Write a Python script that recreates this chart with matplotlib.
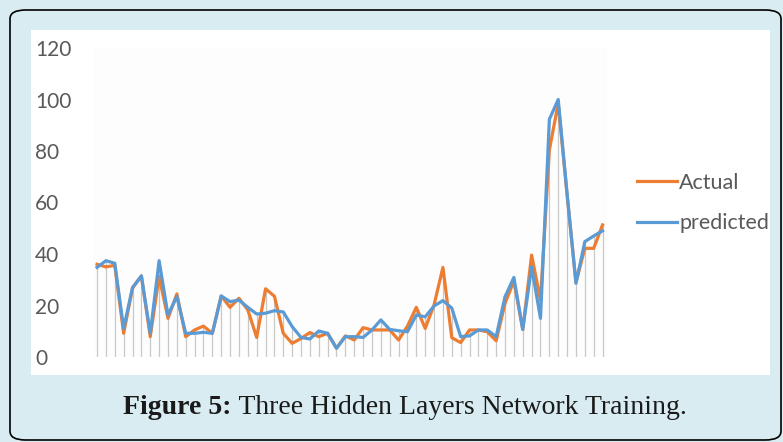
import matplotlib
matplotlib.use("Agg")
import matplotlib.pyplot as plt
from matplotlib.patches import FancyBboxPatch, Rectangle
import numpy as np

actual = [36, 35, 35.6, 9.2, 26.7, 31.5, 7.9, 31.2, 15, 24.5,
          7.9, 10.5, 12, 9.2, 23.7, 19.3, 22.8, 18.3, 7.6, 26.5,
          23.6, 9.2, 5.3, 7.2, 9.5, 7.9, 9.2, 3.4, 8.2, 6.6,
          11.4, 10.5, 10.5, 10.5, 6.6, 12, 19.3, 11.1, 20.2, 34.8,
          7.5, 5.6, 10.5, 10.5, 9.8, 6.3, 20.8, 29.5, 10.7, 39.6,
          22, 80.4, 98.5, 63, 29, 42.2, 42.2, 51.3]
predicted = [34.8, 37.4, 36.4, 11.1, 27, 31.5, 9.2, 37.4, 16.3, 23.5,
             9.2, 9.2, 9.6, 9.2, 23.7, 21.5, 22.1, 19.3, 16.7, 17,
             18, 17.5, 11.8, 7.6, 7, 10.1, 9.2, 3.4, 7.9, 7.9,
             7.6, 10.5, 14.4, 10.7, 10.2, 9.8, 16.3, 15.6, 19.8, 21.9,
             19, 7.9, 8.2, 10.5, 10.5, 7.9, 23.4, 30.9, 10.7, 35,
             15, 92.3, 100, 63.4, 28.6, 44.8, 47, 49]
yticks = [0, 20, 40, 60, 80, 100, 120]
series_names = ["Actual", "predicted"]
caption_bold = "Figure 5:"
caption_rest = "Three Hidden Layers Network Training."

W, H = 783, 442
fig = plt.figure(figsize=(W / 100, H / 100), dpi=100)
fig.patch.set_facecolor("#d8ecf1")

def fx(px):
    return px / W

def fy(py):
    return 1 - py / H

# rounded border
border = FancyBboxPatch((fx(10), fy(440)), fx(771), (440 - 10) / H,
                        boxstyle="round,pad=0,rounding_size=0.02",
                        transform=fig.transFigure, facecolor="none",
                        edgecolor="black", linewidth=1.2, zorder=-2)
fig.patches.append(border)
# white chart panel
panel = Rectangle((fx(31), fy(375)), fx(770 - 31), (375 - 30) / H,
                  transform=fig.transFigure, facecolor="white",
                  edgecolor="none", zorder=-1)
fig.patches.append(panel)

ax = fig.add_axes([fx(92.6), fy(357), fx(607 - 92.6), (357 - 48) / H])
ax.set_zorder(2)
ax.set_facecolor("#fdfdfd")
x = np.arange(len(actual))
top = np.maximum(actual, predicted)
ax.vlines(x, 0, top, colors="#c8c8c8", linewidth=0.9, zorder=1)
ax.plot(x, actual, color="#ED7D31", linewidth=2.3, label=series_names[0], zorder=3)
ax.plot(x, predicted, color="#5B9BD5", linewidth=2.3, label=series_names[1], zorder=4)
ax.set_xlim(-0.5, len(actual) - 0.5)
ax.set_ylim(0, 120)
ax.set_yticks(yticks)
ax.set_yticklabels([str(t) for t in yticks], fontsize=15, color="#595959",
                   family="Lato")
for lab in ax.get_yticklabels():
    lab.set_horizontalalignment("left")
ax.tick_params(axis="y", length=0, pad=(92.6 - 35) * 0.72)
ax.set_xticks([])
for s in ax.spines.values():
    s.set_visible(False)

handles, labels = ax.get_legend_handles_labels()
leg = fig.legend(handles, labels, loc="center left",
                 bbox_to_anchor=(fx(637), fy(203)),
                 frameon=False, handlelength=1.85,
                 handletextpad=0.12, labelspacing=0.95,
                 borderpad=0, borderaxespad=0,
                 prop={"family": "Lato", "size": 15.5})
for t in leg.get_texts():
    t.set_color("#595959")

# caption
cy = fy(408)
t1 = fig.text(0, cy, caption_bold, fontsize=20, fontweight="bold",
              family="Liberation Serif", va="center", color="#1a1a1a")
t2 = fig.text(0, cy, " " + caption_rest, fontsize=20,
              family="Liberation Serif", va="center", color="#1a1a1a")
r = fig.canvas.get_renderer()
w1 = t1.get_window_extent(r).width
w2 = t2.get_window_extent(r).width
start = 405 - (w1 + w2) / 2
t1.set_x(start / W)
t2.set_x((start + w1) / W)

fig.savefig("out.png", dpi=100, facecolor=fig.get_facecolor())
